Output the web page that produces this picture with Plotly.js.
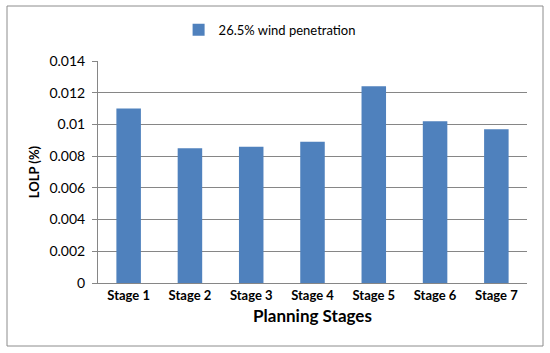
<!DOCTYPE html>
<html>
<head>
<meta charset="utf-8">
<script src="https://cdn.plot.ly/plotly-3.0.1.min.js"></script>
<style>html,body{margin:0;padding:0;background:#fff;}#chart{width:550px;height:353px;}</style>
</head>
<body>
<div id="chart"></div>
<script>
const categories = ["Stage 1", "Stage 2", "Stage 3", "Stage 4", "Stage 5", "Stage 6", "Stage 7"];
const lolpValues = [0.0110, 0.0085, 0.0086, 0.0089, 0.0124, 0.0102, 0.0097];
const seriesName = "26.5% wind penetration";
const yTickVals = [0, 0.002, 0.004, 0.006, 0.008, 0.01, 0.012, 0.014];
const yTickText = ["0", "0.002", "0.004", "0.006", "0.008", "0.01", "0.012", "0.014"];

const FONT = "Lato, 'Open Sans', sans-serif";
const data = [{
  type: "bar",
  x: categories,
  y: lolpValues,
  name: seriesName,
  marker: {color: "#4f81bd"},
  showlegend: true
}];
const layout = {
  width: 550, height: 353,
  margin: {l: 98, r: 23, t: 61, b: 70},
  paper_bgcolor: "#fff", plot_bgcolor: "#fff",
  font: {family: FONT, size: 12, color: "#000"},
  bargap: 0.6,
  showlegend: true,
  legend: {orientation: "h", x: 0.40, y: 1.14, xanchor: "center", yanchor: "middle",
           font: {family: FONT, size: 13, color: "#000"}, itemwidth: 30},
  xaxis: {
    type: "category",
    showgrid: false, showline: true, linecolor: "#868686", linewidth: 1,
    ticks: "", tickfont: {family: FONT, size: 13, color: "#000", weight: "bold"},
    title: {text: "<b>Planning Stages</b>", font: {family: FONT, size: 17, color: "#000"}, standoff: 8}
  },
  yaxis: {
    range: [0, 0.014], tickvals: yTickVals, ticktext: yTickText,
    showgrid: true, gridcolor: "#868686", gridwidth: 1,
    showline: true, linecolor: "#868686", linewidth: 1,
    ticks: "outside", ticklen: 5, tickcolor: "#868686",
    ticklabelstandoff: 4,
    zeroline: false,
    tickfont: {family: FONT, size: 14, color: "#000"},
    title: {text: "<b>LOLP (%)</b>", font: {family: FONT, size: 13, color: "#000"}, standoff: 6}
  },
  shapes: [{
    type: "rect", xref: "paper", yref: "paper",
    x0: -0.2121, x1: 1.0373, y0: -0.2838, y1: 1.2477,
    line: {color: "#8c8c8c", width: 1}, fillcolor: "rgba(0,0,0,0)", layer: "below"
  }]
};
Plotly.newPlot("chart", data, layout, {displayModeBar: false, staticPlot: true});
</script>
</body>
</html>
